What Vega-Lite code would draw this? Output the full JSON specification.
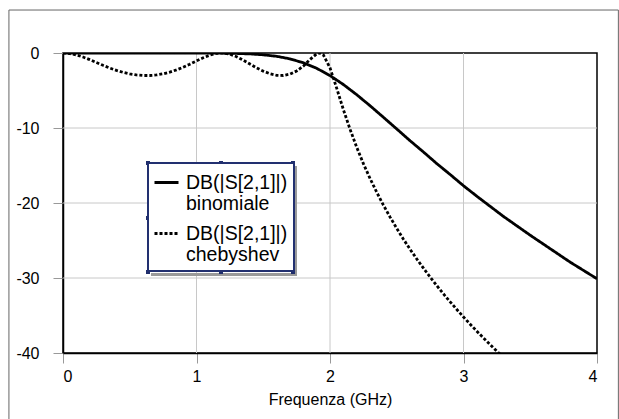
{
  "$schema": "https://vega.github.io/schema/vega-lite/v6.json",
  "width": 534,
  "height": 300,
  "autosize": {"type": "none"},
  "padding": {"left": 63, "top": 53, "right": 22, "bottom": 66},
  "background": "white",
  "config": {
    "font": "Liberation Sans",
    "view": {"stroke": "black", "strokeWidth": 1.5},
    "axis": {
      "labelFontSize": 16,
      "labelColor": "black",
      "titleFontSize": 16,
      "titleFontWeight": "normal",
      "titleColor": "black",
      "domainColor": "black",
      "domainWidth": 1.5,
      "grid": false
    },
    "legend": {
      "orient": "none",
      "legendX": 85,
      "legendY": 110,
      "fillColor": "white",
      "strokeColor": "#223070",
      "strokeWidth": 2,
      "padding": 6,
      "labelFontSize": 19.5,
      "labelColor": "black",
      "labelLimit": 0,
      "labelOffset": 6,
      "labelBaseline": "middle",
      "rowPadding": 6,
      "symbolType": "M-1,0L1,0",
      "symbolSize": 576,
      "symbolStrokeWidth": 2.8,
      "symbolStrokeColor": "black",
      "symbolOffset": -1
    }
  },
  "layer": [
    {
      "data": {"values": [{"k": 1}]},
      "mark": {"type": "rect", "filled": false, "stroke": "#666666", "strokeWidth": 1, "clip": false},
      "encoding": {
        "x": {"datum": -0.405, "type": "quantitative"},
        "x2": {"datum": 4.16},
        "y": {"datum": 5.73, "type": "quantitative"},
        "y2": {"datum": -49.5}
      }
    },
    {
      "data": {"values": [{"g": 1}, {"g": 2}, {"g": 3}]},
      "mark": {"type": "rule", "stroke": "#c8c8c8", "strokeWidth": 1},
      "encoding": {"x": {"field": "g", "type": "quantitative"}, "y": {"datum": 0, "type": "quantitative"}, "y2": {"datum": -40}}
    },
    {
      "data": {"values": [{"h": -10}, {"h": -20}, {"h": -30}]},
      "mark": {"type": "rule", "stroke": "#c8c8c8", "strokeWidth": 1},
      "encoding": {"y": {"field": "h", "type": "quantitative"}, "x": {"datum": 0, "type": "quantitative"}, "x2": {"datum": 4}}
    },
    {
      "data": {"values": [
        {"x1": 1.7228, "x2": 1.7528, "y1": -15.07, "y2": -29.73},
        {"x1": 0.659, "x2": 1.7528, "y1": -29.33, "y2": -29.73}
      ]},
      "mark": {"type": "rect", "fill": "#9a9a9a", "clip": false},
      "encoding": {
        "x": {"field": "x1", "type": "quantitative"},
        "x2": {"field": "x2"},
        "y": {"field": "y1", "type": "quantitative"},
        "y2": {"field": "y2"}
      }
    },
    {
      "data": {
        "values": [
          {"s": "binomiale", "f": 0, "db": 0},
          {"s": "binomiale", "f": 0.5, "db": 0},
          {"s": "binomiale", "f": 1.0, "db": -0.003},
          {"s": "binomiale", "f": 1.1, "db": -0.011},
          {"s": "binomiale", "f": 1.2, "db": -0.03},
          {"s": "binomiale", "f": 1.3, "db": -0.058},
          {"s": "binomiale", "f": 1.4, "db": -0.12},
          {"s": "binomiale", "f": 1.5, "db": -0.24},
          {"s": "binomiale", "f": 1.6, "db": -0.44},
          {"s": "binomiale", "f": 1.7, "db": -0.78},
          {"s": "binomiale", "f": 1.8, "db": -1.3},
          {"s": "binomiale", "f": 1.9, "db": -2.04},
          {"s": "binomiale", "f": 2.0, "db": -3.01},
          {"s": "binomiale", "f": 2.1, "db": -4.2},
          {"s": "binomiale", "f": 2.2, "db": -5.56},
          {"s": "binomiale", "f": 2.3, "db": -7.03},
          {"s": "binomiale", "f": 2.4, "db": -8.57},
          {"s": "binomiale", "f": 2.5, "db": -10.13},
          {"s": "binomiale", "f": 2.6, "db": -11.7},
          {"s": "binomiale", "f": 2.7, "db": -13.2},
          {"s": "binomiale", "f": 2.8, "db": -14.75},
          {"s": "binomiale", "f": 2.9, "db": -16.2},
          {"s": "binomiale", "f": 3.0, "db": -17.7},
          {"s": "binomiale", "f": 3.1, "db": -19.1},
          {"s": "binomiale", "f": 3.2, "db": -20.45},
          {"s": "binomiale", "f": 3.3, "db": -21.8},
          {"s": "binomiale", "f": 3.4, "db": -23.05},
          {"s": "binomiale", "f": 3.5, "db": -24.3},
          {"s": "binomiale", "f": 3.6, "db": -25.5},
          {"s": "binomiale", "f": 3.7, "db": -26.7},
          {"s": "binomiale", "f": 3.8, "db": -27.9},
          {"s": "binomiale", "f": 3.9, "db": -29.0},
          {"s": "binomiale", "f": 4.0, "db": -30.1},
          {"s": "chebyshev", "f": 0, "db": 0},
          {"s": "chebyshev", "f": 0.05, "db": -0.066},
          {"s": "chebyshev", "f": 0.1, "db": -0.253},
          {"s": "chebyshev", "f": 0.15, "db": -0.538},
          {"s": "chebyshev", "f": 0.2, "db": -0.886},
          {"s": "chebyshev", "f": 0.25, "db": -1.264},
          {"s": "chebyshev", "f": 0.3, "db": -1.644},
          {"s": "chebyshev", "f": 0.35, "db": -2.0},
          {"s": "chebyshev", "f": 0.4, "db": -2.317},
          {"s": "chebyshev", "f": 0.45, "db": -2.583},
          {"s": "chebyshev", "f": 0.5, "db": -2.789},
          {"s": "chebyshev", "f": 0.55, "db": -2.93},
          {"s": "chebyshev", "f": 0.6, "db": -3.0},
          {"s": "chebyshev", "f": 0.65, "db": -3.0},
          {"s": "chebyshev", "f": 0.7, "db": -2.925},
          {"s": "chebyshev", "f": 0.75, "db": -2.775},
          {"s": "chebyshev", "f": 0.8, "db": -2.55},
          {"s": "chebyshev", "f": 0.85, "db": -2.255},
          {"s": "chebyshev", "f": 0.9, "db": -1.895},
          {"s": "chebyshev", "f": 0.95, "db": -1.488},
          {"s": "chebyshev", "f": 1.0, "db": -1.056},
          {"s": "chebyshev", "f": 1.05, "db": -0.638},
          {"s": "chebyshev", "f": 1.1, "db": -0.283},
          {"s": "chebyshev", "f": 1.15, "db": -0.055},
          {"s": "chebyshev", "f": 1.2, "db": -0.007},
          {"s": "chebyshev", "f": 1.25, "db": -0.159},
          {"s": "chebyshev", "f": 1.3, "db": -0.49},
          {"s": "chebyshev", "f": 1.35, "db": -0.953},
          {"s": "chebyshev", "f": 1.4, "db": -1.47},
          {"s": "chebyshev", "f": 1.45, "db": -1.98},
          {"s": "chebyshev", "f": 1.5, "db": -2.42},
          {"s": "chebyshev", "f": 1.55, "db": -2.76},
          {"s": "chebyshev", "f": 1.6, "db": -2.97},
          {"s": "chebyshev", "f": 1.65, "db": -3.0},
          {"s": "chebyshev", "f": 1.7, "db": -2.82},
          {"s": "chebyshev", "f": 1.75, "db": -2.4},
          {"s": "chebyshev", "f": 1.8, "db": -1.75},
          {"s": "chebyshev", "f": 1.85, "db": -0.87},
          {"s": "chebyshev", "f": 1.9, "db": -0.106},
          {"s": "chebyshev", "f": 1.92, "db": 0},
          {"s": "chebyshev", "f": 1.95, "db": -0.257},
          {"s": "chebyshev", "f": 2.0, "db": -1.98},
          {"s": "chebyshev", "f": 2.05, "db": -4.69},
          {"s": "chebyshev", "f": 2.1, "db": -7.53},
          {"s": "chebyshev", "f": 2.15, "db": -10.16},
          {"s": "chebyshev", "f": 2.2, "db": -12.56},
          {"s": "chebyshev", "f": 2.25, "db": -14.75},
          {"s": "chebyshev", "f": 2.3, "db": -16.73},
          {"s": "chebyshev", "f": 2.35, "db": -18.57},
          {"s": "chebyshev", "f": 2.4, "db": -20.28},
          {"s": "chebyshev", "f": 2.45, "db": -21.88},
          {"s": "chebyshev", "f": 2.5, "db": -23.38},
          {"s": "chebyshev", "f": 2.55, "db": -24.82},
          {"s": "chebyshev", "f": 2.6, "db": -26.18},
          {"s": "chebyshev", "f": 2.65, "db": -27.46},
          {"s": "chebyshev", "f": 2.7, "db": -28.69},
          {"s": "chebyshev", "f": 2.75, "db": -29.88},
          {"s": "chebyshev", "f": 2.8, "db": -31.02},
          {"s": "chebyshev", "f": 2.85, "db": -32.12},
          {"s": "chebyshev", "f": 2.9, "db": -33.18},
          {"s": "chebyshev", "f": 2.95, "db": -34.2},
          {"s": "chebyshev", "f": 3.0, "db": -35.2},
          {"s": "chebyshev", "f": 3.05, "db": -36.16},
          {"s": "chebyshev", "f": 3.1, "db": -37.1},
          {"s": "chebyshev", "f": 3.15, "db": -38.0},
          {"s": "chebyshev", "f": 3.2, "db": -38.89},
          {"s": "chebyshev", "f": 3.25, "db": -39.76},
          {"s": "chebyshev", "f": 3.3, "db": -40.6}
        ]
      },
      "mark": {"type": "line", "color": "black", "strokeWidth": 2.8, "clip": true},
      "encoding": {
        "x": {
          "field": "f",
          "type": "quantitative",
          "scale": {"domain": [0, 4], "nice": false},
          "axis": {"values": [0, 1, 2, 3, 4], "grid": false, "tickColor": "#999999", "title": "Frequenza (GHz)", "tickSize": 10, "labelPadding": 5, "titlePadding": 7, "labelExpr": "datum.value + ''"}
        },
        "y": {
          "field": "db",
          "type": "quantitative",
          "scale": {"domain": [-40, 0], "nice": false},
          "axis": {"values": [0, -10, -20, -30, -40], "grid": false, "tickColor": "#999999", "title": null, "tickSize": 10, "labelPadding": 14, "labelExpr": "datum.value + ''"}
        },
        "strokeDash": {
          "field": "s",
          "type": "nominal",
          "scale": {"domain": ["binomiale", "chebyshev"], "range": [[1, 0], [3, 2]]},
          "legend": {
            "title": null,
            "labelExpr": "datum.label == 'binomiale' ? ['DB(|S[2,1]|)', 'binomiale'] : ['DB(|S[2,1]|)', 'chebyshev']"
          }
        },
        "order": {"field": "f", "type": "quantitative"}
      }
    },
    {
      "data": {"values": [
        {"hx": 0.6367, "hy": -14.667},
        {"hx": 1.1835, "hy": -14.667},
        {"hx": 1.7228, "hy": -14.667},
        {"hx": 0.6367, "hy": -22.0},
        {"hx": 1.7228, "hy": -22.0},
        {"hx": 0.6367, "hy": -29.2},
        {"hx": 1.1835, "hy": -29.2},
        {"hx": 1.7228, "hy": -29.2}
      ]},
      "mark": {"type": "square", "color": "#1f2d6b", "size": 16, "opacity": 1, "clip": false},
      "encoding": {
        "x": {"field": "hx", "type": "quantitative"},
        "y": {"field": "hy", "type": "quantitative"}
      }
    }
  ]
}
